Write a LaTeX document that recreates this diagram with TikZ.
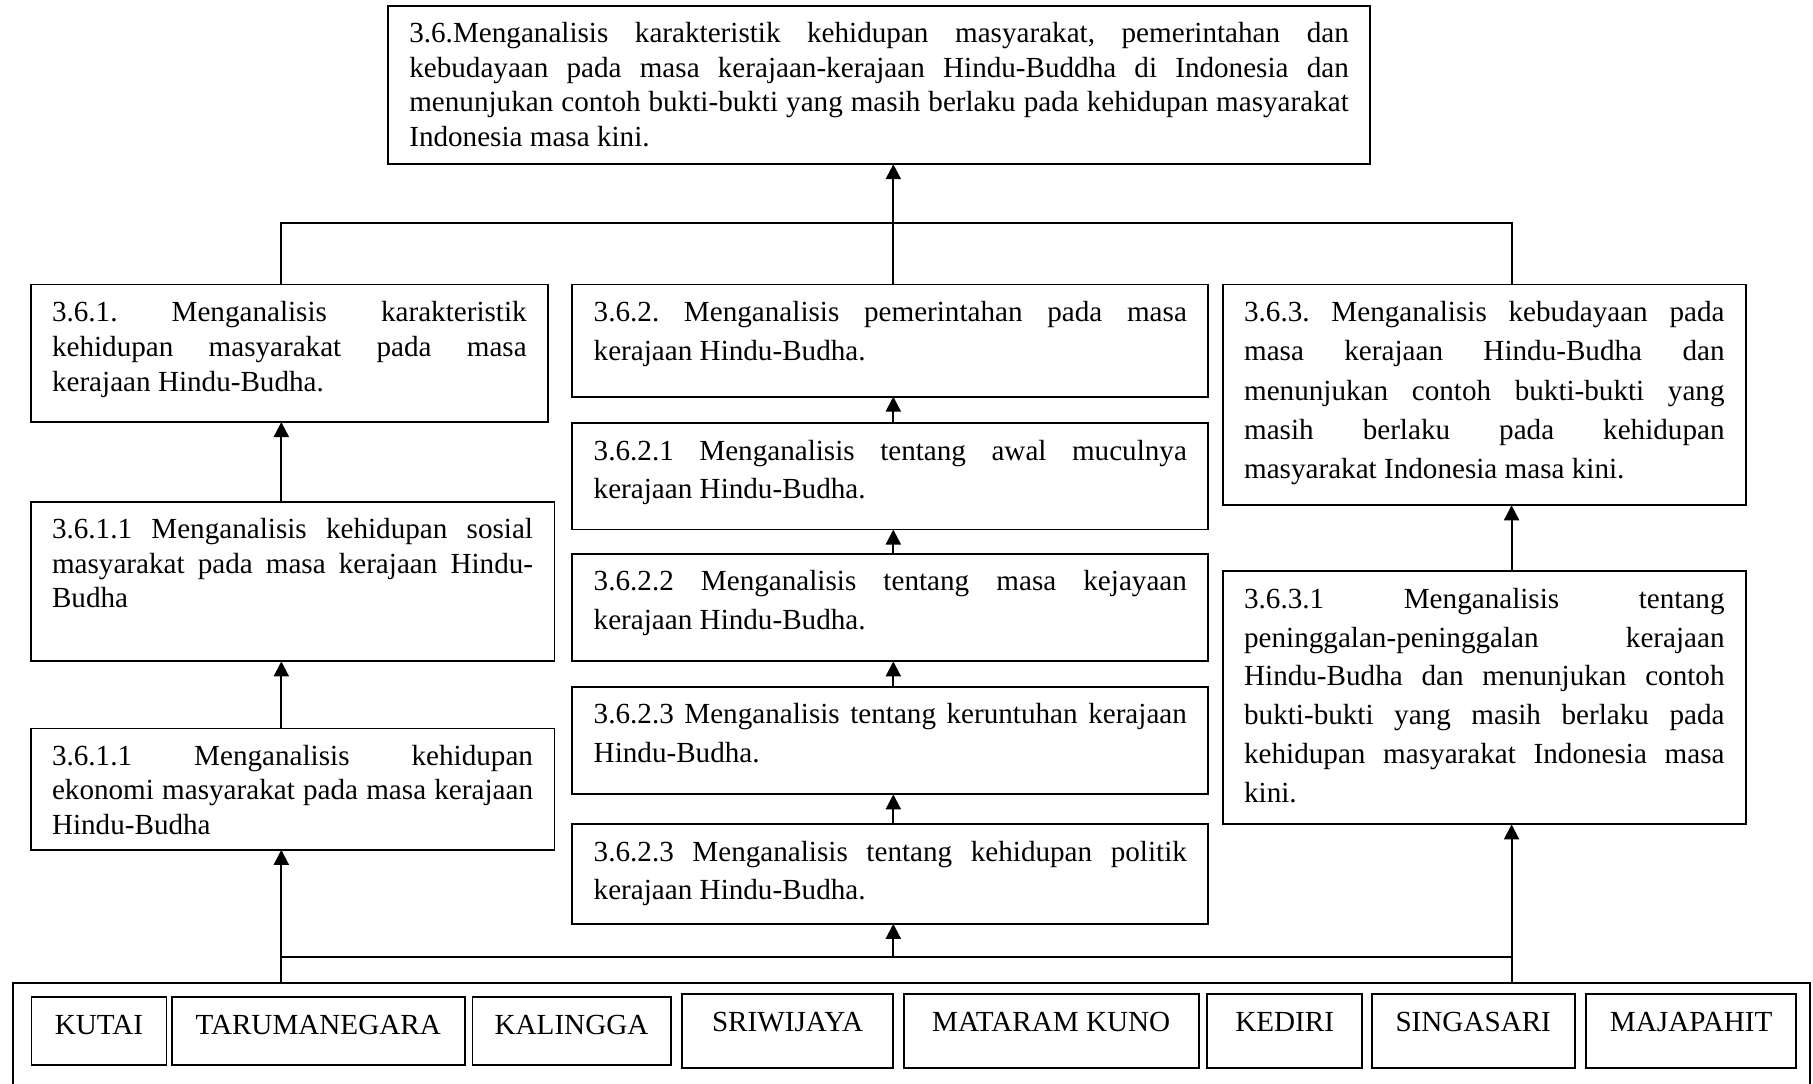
\documentclass[tikz,border=0pt]{standalone}
\usepackage{fontspec}
\setmainfont{Liberation Serif}
\usetikzlibrary{arrows.meta}

% #1 width, #2 height, #3 baselineskip, #4 alignment, #5 text
\newcommand\boxtxt[5]{%
  \parbox[t][#2pt][t]{\dimexpr#1pt-37pt\relax}{%
    \fontsize{25.2pt}{#3pt}\selectfont\frenchspacing
    \tolerance=10000 \hyphenpenalty=10000 \exhyphenpenalty=10000
    #4\rule{0pt}{32pt}#5}}

\tikzset{
  bx/.style={draw, line width=1.6pt, rectangle, anchor=north west,
             inner xsep=18.5pt, inner ysep=0pt, outer sep=0pt},
  ln/.style={line width=1.8pt},
  arr/.style={line width=1.8pt, -{Triangle[length=13pt,width=13pt]}},
}

\begin{document}
\begin{tikzpicture}[x=1pt,y=-1pt]
\useasboundingbox (0,0) rectangle (1568,937);
\fill[white] (0,0) rectangle (1568,937);

% column / level coordinates
\coordinate (xL) at (243.3,0);
\coordinate (xM) at (772.6,0);
\coordinate (xR) at (1307.3,0);
\coordinate (hT) at (0,193);
\coordinate (hB) at (0,828);

% top box
\node[bx] (top) at (335.5,5) {\boxtxt{849.5}{137}{29.8}{}{%
3.6.Menganalisis karakteristik kehidupan masyarakat, pemerintahan dan\linebreak
kebudayaan pada masa kerajaan-kerajaan Hindu-Buddha di Indonesia dan\linebreak
menunjukan contoh bukti-bukti yang masih berlaku pada kehidupan masyarakat\linebreak
Indonesia masa kini.}};

% left column
\node[bx] (b361) at (26.5,246) {\boxtxt{447.5}{119}{30.3}{}{%
3.6.1. Menganalisis karakteristik\linebreak
kehidupan masyarakat pada masa\linebreak
kerajaan Hindu-Budha.}};
\node[bx] (b3611s) at (26.5,434) {\boxtxt{453}{138}{29.9}{}{%
3.6.1.1 Menganalisis kehidupan sosial\linebreak
masyarakat pada masa kerajaan Hindu-\linebreak
Budha}};
\node[bx] (b3611e) at (26.5,630) {\boxtxt{453}{105}{29.7}{}{%
3.6.1.1 Menganalisis kehidupan\linebreak
ekonomi masyarakat pada masa kerajaan\linebreak
Hindu-Budha}};

% middle column
\node[bx] (b362) at (495,246) {\boxtxt{550}{97}{33.6}{}{%
3.6.2. Menganalisis pemerintahan pada masa\linebreak
kerajaan Hindu-Budha.}};
\node[bx] (b3621) at (495,366) {\boxtxt{550}{92}{33.3}{}{%
3.6.2.1 Menganalisis tentang awal muculnya\linebreak
kerajaan Hindu-Budha.}};
\node[bx] (b3622) at (495,479) {\boxtxt{550}{93}{33.3}{}{%
3.6.2.2 Menganalisis tentang masa kejayaan\linebreak
kerajaan Hindu-Budha.}};
\node[bx] (b3623k) at (495,594) {\boxtxt{550}{93}{33.3}{}{%
3.6.2.3 Menganalisis tentang keruntuhan kerajaan\linebreak
Hindu-Budha.}};
\node[bx] (b3623p) at (495,713) {\boxtxt{550}{86}{33.3}{}{%
3.6.2.3 Menganalisis tentang kehidupan politik\linebreak
kerajaan Hindu-Budha.}};

% right column
\node[bx] (b363) at (1057.5,246) {\boxtxt{452.5}{191}{34}{}{%
3.6.3. Menganalisis kebudayaan pada\linebreak
masa kerajaan Hindu-Budha dan\linebreak
menunjukan contoh bukti-bukti yang\linebreak
masih berlaku pada kehidupan\linebreak
masyarakat Indonesia masa kini.}};
\node[bx] (b3631) at (1057.5,494) {\boxtxt{452.5}{219}{33.6}{}{%
3.6.3.1 Menganalisis tentang\linebreak
peninggalan-peninggalan kerajaan\linebreak
Hindu-Budha dan menunjukan contoh\linebreak
bukti-bukti yang masih berlaku pada\linebreak
kehidupan masyarakat Indonesia masa\linebreak
kini.}};

% outer bottom box (bottom edge lies below the picture)
\node[bx, line width=1.8pt, minimum width=1554pt, minimum height=110pt] (outer) at (11,850) {};

% kingdoms
\node[bx] (kutai) at (27.3,862.5) {\boxtxt{116.7}{58.5}{30}{\centering}{KUTAI}};
\node[bx] (taruma) at (148.4,862.5) {\boxtxt{253.6}{58.5}{30}{\centering}{TARUMANEGARA}};
\node[bx] (kalingga) at (408.6,862.5) {\boxtxt{171.4}{58.5}{30}{\centering}{KALINGGA}};
\node[bx] (sriwijaya) at (589.8,860) {\boxtxt{182.7}{63.5}{30}{\centering}{SRIWIJAYA}};
\node[bx] (mataram) at (781.6,860) {\boxtxt{255}{63.5}{30}{\centering}{MATARAM KUNO}};
\node[bx] (kediri) at (1044.2,860) {\boxtxt{133.8}{63.5}{30}{\centering}{KEDIRI}};
\node[bx] (singasari) at (1186.3,860) {\boxtxt{175.7}{63.5}{30}{\centering}{SINGASARI}};
\node[bx] (majapahit) at (1372,860) {\boxtxt{181.3}{63.5}{30}{\centering}{MAJAPAHIT}};

% connectors: top level
\draw[arr] (xM |- b362.north) -- (xM |- top.south);
\draw[ln] (xL |- b361.north) -- (xL |- hT) -- (xR |- hT) -- (xR |- b363.north);

% left column
\draw[arr] (xL |- b3611s.north) -- (xL |- b361.south);
\draw[arr] (xL |- b3611e.north) -- (xL |- b3611s.south);
\draw[arr] (xL |- outer.north) -- (xL |- b3611e.south);

% middle column
\draw[arr] (xM |- b3621.north) -- (xM |- b362.south);
\draw[arr] (xM |- b3622.north) -- (xM |- b3621.south);
\draw[arr] (xM |- b3623k.north) -- (xM |- b3622.south);
\draw[arr] (xM |- b3623p.north) -- (xM |- b3623k.south);
\draw[arr] (xM |- hB) -- (xM |- b3623p.south);

% right column
\draw[arr] (xR |- b3631.north) -- (xR |- b363.south);
\draw[arr] (xR |- outer.north) -- (xR |- b3631.south);

% bottom distribution line
\draw[ln] (xL |- hB) -- (xR |- hB);
\end{tikzpicture}
\end{document}
